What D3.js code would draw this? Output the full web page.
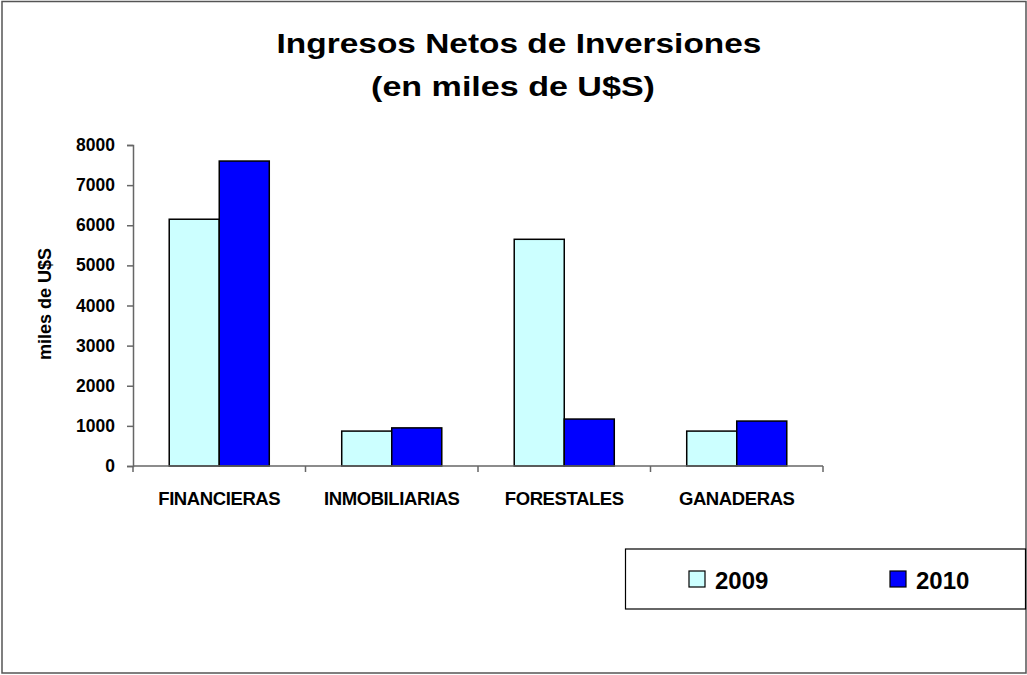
<!DOCTYPE html>
<html>
<head>
  <meta charset="utf-8">
  <script src="https://cdnjs.cloudflare.com/ajax/libs/d3/7.8.5/d3.min.js"></script>
  <title>Ingresos Netos de Inversiones</title>
  <style>
    body { margin: 0; background: #fff; }
    text { font-family: "Liberation Sans", Arial, sans-serif; font-weight: bold; fill: #000; }
  </style>
</head>
<body>
<script>
// data
const categories = ["FINANCIERAS", "INMOBILIARIAS", "FORESTALES", "GANADERAS"];
const years = ["2009", "2010"];
const values2009 = [6150, 870, 5650, 870];
const values2010 = [7600, 950, 1170, 1120];
const yTicks = [0, 1000, 2000, 3000, 4000, 5000, 6000, 7000, 8000];
const colors = ["#CCFFFF", "#0000FF"];

const W = 1027, H = 675;
const margin = {top: 145, right: 204, bottom: 209, left: 133};
const width = W - margin.left - margin.right,
      height = H - margin.top - margin.bottom;

const svg = d3.select("body").append("svg")
    .attr("width", W)
    .attr("height", H);

// outer frame
svg.append("rect")
  .attr("x", 2).attr("y", 1.5)
  .attr("width", 1024).attr("height", 671.5)
  .attr("fill", "none")
  .attr("stroke", "#555")
  .attr("stroke-width", 1.5);

// title - the original glyphs are drawn wide, so stretch them horizontally
function wideText(cx, cy, str, size, targetW) {
  const t = svg.append("text")
    .attr("text-anchor", "middle")
    .style("font-size", size + "px")
    .text(str);
  const natural = t.node().getComputedTextLength();
  t.attr("transform", "translate(" + cx + "," + cy + ") scale(" + (targetW / natural) + ",1)");
  return t;
}
wideText(519, 53, "Ingresos Netos de Inversiones", 28, 485);
wideText(513, 96, "(en miles de U$S)", 28, 284);

const g = svg.append("g")
  .attr("transform", "translate(" + margin.left + "," + margin.top + ")");

const x0 = d3.scaleBand()
  .domain(categories)
  .range([0, width])
  .padding(0);

const x1 = d3.scaleBand()
  .domain(years)
  .range([0, x0.bandwidth() * 0.58])
  .padding(0);

const y = d3.scaleLinear()
  .domain([0, 8000])
  .range([height, 0]);

const rows = categories.map(function(c, i) {
  return {cat: c, vals: [values2009[i], values2010[i]]};
});

// bars
const groups = g.selectAll("g.cat")
  .data(rows)
  .enter().append("g")
  .attr("class", "cat")
  .attr("transform", function(d) {
    return "translate(" + (x0(d.cat) + x0.bandwidth() * 0.21) + ",0)";
  });

groups.selectAll("rect")
  .data(function(d) { return d.vals.map(function(v, j) { return {year: years[j], v: v, j: j}; }); })
  .enter().append("rect")
  .attr("x", function(d) { return x1(d.year); })
  .attr("y", function(d) { return y(d.v); })
  .attr("width", x1.bandwidth())
  .attr("height", function(d) { return height - y(d.v); })
  .attr("fill", function(d) { return colors[d.j]; })
  .attr("stroke", "#000")
  .attr("stroke-width", 1.5);

// y axis
const yAxis = d3.axisLeft(y)
  .tickValues(yTicks)
  .tickSize(6)
  .tickPadding(12)
  .tickFormat(d3.format("d"));

const ya = g.append("g").call(yAxis);
ya.select(".domain").attr("stroke", "#666").attr("stroke-width", 1.5);
ya.selectAll(".tick line").attr("stroke", "#666").attr("stroke-width", 1.5);
ya.selectAll(".tick text")
  .style("font-size", "17.5px")
  .style("font-family", "'Liberation Sans', Arial, sans-serif")
  .style("font-weight", "bold")
  .attr("fill", "#000");

// x axis: ticks at category boundaries
const xa = g.append("g")
  .attr("transform", "translate(0," + height + ")");
xa.append("line")
  .attr("x1", 0).attr("x2", width)
  .attr("stroke", "#666").attr("stroke-width", 1.5);
xa.selectAll("line.bnd")
  .data(categories.concat(["end"]))
  .enter().append("line")
  .attr("class", "bnd")
  .attr("x1", function(d, i) { return i * x0.bandwidth(); })
  .attr("x2", function(d, i) { return i * x0.bandwidth(); })
  .attr("y1", 0).attr("y2", 6)
  .attr("stroke", "#666").attr("stroke-width", 1.5);
xa.selectAll("text")
  .data(categories)
  .enter().append("text")
  .attr("x", function(d) { return x0(d) + x0.bandwidth() / 2; })
  .attr("y", 39)
  .attr("text-anchor", "middle")
  .style("font-size", "18.5px")
  .style("letter-spacing", "-0.4px")
  .text(function(d) { return d; });

// y axis label
svg.append("text")
  .attr("transform", "translate(51,304) rotate(-90)")
  .attr("text-anchor", "middle")
  .style("font-size", "18px")
  .text("miles de U$S");

// legend
const legend = svg.append("g");
legend.append("rect")
  .attr("x", 625.5).attr("y", 549)
  .attr("width", 400).attr("height", 60)
  .attr("fill", "#fff")
  .attr("stroke", "#000")
  .attr("stroke-width", 1.2);

const legX = [689, 890];
years.forEach(function(yr, i) {
  legend.append("rect")
    .attr("x", legX[i]).attr("y", 571)
    .attr("width", 16).attr("height", 16)
    .attr("fill", colors[i])
    .attr("stroke", "#000")
    .attr("stroke-width", 1.2);
  legend.append("text")
    .attr("x", legX[i] + 26).attr("y", 589)
    .style("font-size", "24px")
    .text(yr);
});
</script>
</body>
</html>
